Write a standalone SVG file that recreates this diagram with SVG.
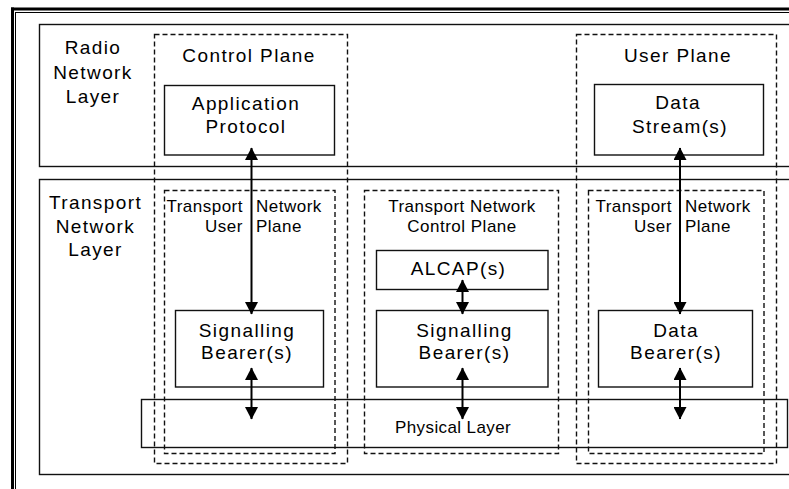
<svg xmlns="http://www.w3.org/2000/svg" width="789" height="489" viewBox="0 0 789 489">
<style>
  .frame { fill: none; stroke: #000; }
  .box { fill: none; stroke: #111; stroke-width: 1.4; }
  .dash { fill: none; stroke: #111; stroke-width: 1.4; stroke-dasharray: 5 3; }
  .conn { stroke: #000; stroke-width: 2; fill: none; marker-start: url(#ah); marker-end: url(#ah); }
  .big { font-family: "Liberation Sans", Arial, sans-serif; font-size: 19px; letter-spacing: 1.4px; fill: #000; }
  .small { font-family: "Liberation Sans", Arial, sans-serif; font-size: 17px; letter-spacing: 0.5px; fill: #000; }
  .mid { text-anchor: middle; }
  .end { text-anchor: end; }
</style>
<defs>
  <marker id="ah" markerUnits="userSpaceOnUse" markerWidth="13" markerHeight="13" refX="12" refY="6.5" orient="auto-start-reverse" viewBox="0 0 13 13">
    <path d="M0,0 L12.5,6.5 L0,13 Z" fill="#000"/>
  </marker>
</defs>
<rect width="789" height="489" fill="#fff"/>
<g id="outer-frame">
  <line class="frame" x1="12.5" y1="7.5" x2="12.5" y2="489" stroke-width="3"/>
  <line class="frame" x1="11" y1="9" x2="789" y2="9" stroke-width="3"/>
  <line class="frame" x1="15.5" y1="12.5" x2="15.5" y2="489" stroke-width="1"/>
  <line class="frame" x1="15" y1="12.5" x2="789" y2="12.5" stroke-width="1"/>
</g>
<g id="radio-network-layer">
  <rect class="box" x="39.5" y="24.5" width="760" height="142"/>
  <text class="big mid" x="93" y="54">Radio</text>
  <text class="big mid" x="93" y="79">Network</text>
  <text class="big mid" x="93" y="103">Layer</text>
</g>
<g id="transport-network-layer">
  <rect class="box" x="39.5" y="179.5" width="760" height="295"/>
  <text class="big mid" x="95.5" y="209">Transport</text>
  <text class="big mid" x="95.5" y="232.5">Network</text>
  <text class="big mid" x="95.5" y="256">Layer</text>
</g>
<g id="control-plane">
  <rect class="dash" x="154.5" y="34.5" width="193" height="429"/>
  <text class="big mid" x="249" y="62">Control Plane</text>
</g>
<g id="user-plane">
  <rect class="dash" x="576.5" y="34.5" width="200" height="429"/>
  <text class="big mid" x="678" y="62">User Plane</text>
</g>
<g id="tn-user-plane-left">
  <rect class="dash" x="164.5" y="190.5" width="170.5" height="263"/>
  <text class="small end" x="243" y="212">Transport</text>
  <text class="small" x="256" y="212">Network</text>
  <text class="small end" x="243" y="232">User</text>
  <text class="small" x="256" y="232">Plane</text>
</g>
<g id="tn-control-plane">
  <rect class="dash" x="364.5" y="190.5" width="194" height="263"/>
  <text class="small mid" x="462" y="212">Transport Network</text>
  <text class="small mid" x="462" y="232">Control Plane</text>
</g>
<g id="tn-user-plane-right">
  <rect class="dash" x="588.5" y="190.5" width="175.5" height="263"/>
  <text class="small end" x="672" y="212">Transport</text>
  <text class="small" x="685" y="212">Network</text>
  <text class="small end" x="672" y="232">User</text>
  <text class="small" x="685" y="232">Plane</text>
</g>
<g id="application-protocol">
  <rect class="box" x="164.5" y="85.5" width="170" height="69.5"/>
  <text class="big mid" x="246" y="110">Application</text>
  <text class="big mid" x="246" y="133">Protocol</text>
</g>
<g id="data-streams">
  <rect class="box" x="594.5" y="84.5" width="169" height="70.5"/>
  <text class="big mid" x="678" y="109">Data</text>
  <text class="big mid" x="680" y="133">Stream(s)</text>
</g>
<g id="signalling-bearers-left">
  <rect class="box" x="175.5" y="310.5" width="148" height="76.5"/>
  <text class="big mid" x="247" y="336.5">Signalling</text>
  <text class="big mid" x="247" y="359">Bearer(s)</text>
</g>
<g id="alcaps">
  <rect class="box" x="376.5" y="250.5" width="171.5" height="39"/>
  <text class="big mid" x="458.5" y="275">ALCAP(s)</text>
</g>
<g id="signalling-bearers-middle">
  <rect class="box" x="376.5" y="310.5" width="171.5" height="76.5"/>
  <text class="big mid" x="464.5" y="336.5">Signalling</text>
  <text class="big mid" x="464.5" y="359">Bearer(s)</text>
</g>
<g id="data-bearers">
  <rect class="box" x="598.5" y="310.5" width="154" height="76.5"/>
  <text class="big mid" x="676" y="336.5">Data</text>
  <text class="big mid" x="676" y="359">Bearer(s)</text>
</g>
<g id="physical-layer">
  <rect class="box" x="141.5" y="399.5" width="646" height="48"/>
  <text class="small" x="395" y="433" style="letter-spacing:0.4px">Physical Layer</text>
</g>
<g id="connectors">
  <line class="conn" x1="251.5" y1="148" x2="251.5" y2="314"/>
  <line class="conn" x1="251.5" y1="368" x2="251.5" y2="419"/>
  <line class="conn" x1="462.5" y1="280" x2="462.5" y2="314"/>
  <line class="conn" x1="462.5" y1="368" x2="462.5" y2="419"/>
  <line class="conn" x1="680" y1="148" x2="680" y2="314"/>
  <line class="conn" x1="680" y1="368" x2="680" y2="419"/>
</g>
</svg>
